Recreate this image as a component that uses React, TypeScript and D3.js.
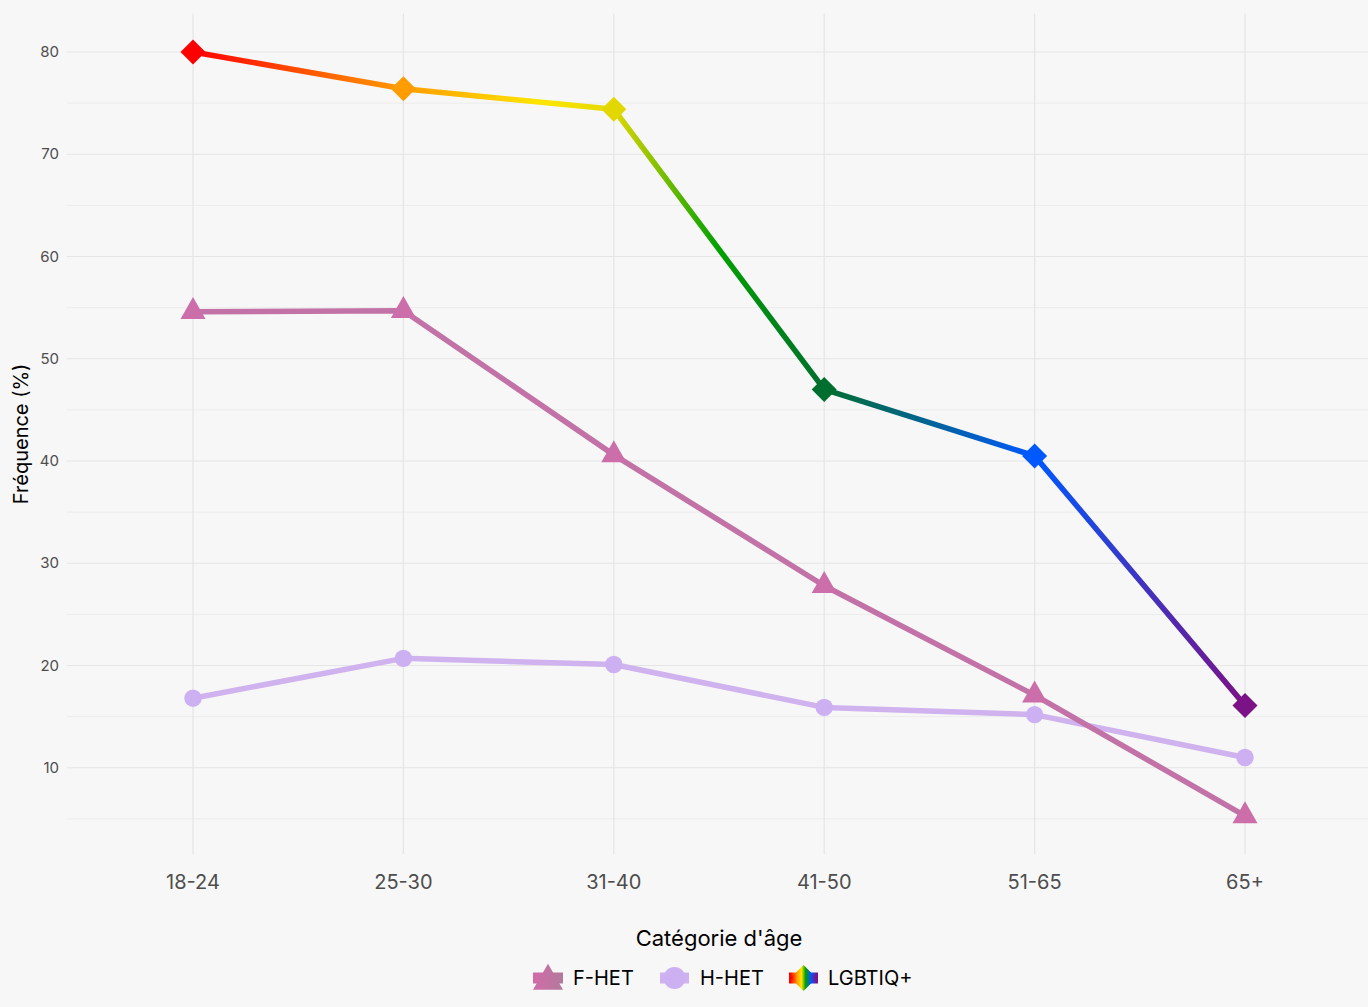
import React from 'react';
import * as d3 from 'd3';

const categories = ['18-24', '25-30', '31-40', '41-50', '51-65', '65+'];
const fhetValues = [54.6, 54.7, 40.6, 27.8, 17.1, 5.3];
const hhetValues = [16.8, 20.7, 20.1, 15.9, 15.2, 11.0];
const lgbtValues = [80.0, 76.4, 74.4, 47.0, 40.5, 16.1];
const yMajorTicks = [10, 20, 30, 40, 50, 60, 70, 80];
const yMinorTicks = [5, 15, 25, 35, 45, 55, 65, 75];
const legendLabels = ['F-HET', 'H-HET', 'LGBTIQ+'];

const W = 1368;
const H = 1007;
const FONT = 'Inter, "Noto Sans", sans-serif';

const rainbowStops: [number, string][] = [
  [0, '#ff0000'],
  [0.2, '#ff9c00'],
  [0.33, '#ffe600'],
  [0.4, '#e2d800'],
  [0.5, '#00a000'],
  [0.6, '#006e2e'],
  [0.8, '#0058ff'],
  [1, '#7b1285'],
];

export default function App() {
  const panel = { left: 67, right: W, top: 13.8, bottom: 854 };
  const x = d3.scalePoint<string>().domain(categories).range([193, 1245]);
  const y = d3.scaleLinear().domain([1.565, 83.735]).range([panel.bottom, panel.top]);

  const line = d3
    .line<number>()
    .x((_, i) => x(categories[i]) as number)
    .y((d) => y(d));

  const interp = (t: number) => {
    for (let i = 0; i < rainbowStops.length - 1; i++) {
      const [a, ca] = rainbowStops[i];
      const [b, cb] = rainbowStops[i + 1];
      if (t >= a && t <= b) return d3.interpolateRgb(ca, cb)((t - a) / (b - a));
    }
    return rainbowStops[rainbowStops.length - 1][1];
  };

  const x0 = x(categories[0]) as number;
  const x1 = x(categories[categories.length - 1]) as number;

  const tri = (cx: number, cy: number, w: number, h: number) =>
    `M${cx},${cy - (2 * h) / 3}L${cx + w / 2},${cy + h / 3}L${cx - w / 2},${cy + h / 3}Z`;
  const diamond = (cx: number, cy: number, r: number) =>
    `M${cx},${cy - r}L${cx + r},${cy}L${cx},${cy + r}L${cx - r},${cy}Z`;

  const fhetLine = '#c272a7';
  const fhetPoint = '#cc6ea9';
  const hhetColor = '#cfb2ee';
  const hhetPoint = '#cdb0f2';

  const legendY = 978;
  const legendItems = [
    { key: 533, label: 573 },
    { key: 660, label: 700 },
    { key: 789, label: 828 },
  ];

  return (
    <svg
      width={W}
      height={H}
      style={{ position: 'fixed', left: 0, top: 0, display: 'block' }}
      fontFamily={FONT}
    >
      <defs>
        <linearGradient id="rainbow" gradientUnits="userSpaceOnUse" x1={x0} y1={0} x2={x1} y2={0}>
          {rainbowStops.map(([o, c]) => (
            <stop key={o} offset={o} stopColor={c} />
          ))}
        </linearGradient>
        <linearGradient id="rainbowKey" x1="0" y1="0" x2="1" y2="0">
          <stop offset="0.05" stopColor="#ff0000" />
          <stop offset="0.25" stopColor="#ff9c00" />
          <stop offset="0.42" stopColor="#ffe600" />
          <stop offset="0.58" stopColor="#00a000" />
          <stop offset="0.78" stopColor="#0058ff" />
          <stop offset="0.95" stopColor="#7b1285" />
        </linearGradient>
        <linearGradient id="fhetKey" x1="0" y1="0" x2="1" y2="0">
          <stop offset="0" stopColor="#d26ba9" />
          <stop offset="1" stopColor="#b27a9c" />
        </linearGradient>
      </defs>
      <rect x={0} y={0} width={W} height={H} fill="#f7f7f7" />

      {/* grid */}
      {yMinorTicks.map((t) => (
        <line key={'mn' + t} x1={panel.left} x2={panel.right} y1={y(t)} y2={y(t)} stroke="#ececec" strokeWidth={1} />
      ))}
      {yMajorTicks.map((t) => (
        <line key={'mj' + t} x1={panel.left} x2={panel.right} y1={y(t)} y2={y(t)} stroke="#e5e5e5" strokeWidth={1.2} />
      ))}
      {categories.map((c) => (
        <line key={'v' + c} x1={x(c)} x2={x(c)} y1={panel.top} y2={panel.bottom} stroke="#e5e5e5" strokeWidth={1.2} />
      ))}

      {/* y tick labels */}
      {yMajorTicks.map((t) => (
        <text key={'yt' + t} x={59} y={y(t)} dy="0.35em" textAnchor="end" fontSize={15} fill="#4d4d4d">
          {t}
        </text>
      ))}
      {/* x tick labels */}
      {categories.map((c) => (
        <text key={'xt' + c} x={x(c)} y={889} textAnchor="middle" fontSize={20} fill="#4d4d4d">
          {c}
        </text>
      ))}

      {/* axis titles */}
      <text x={(panel.left + 1371) / 2} y={946} textAnchor="middle" fontSize={22} fill="#000">
        Catégorie d'âge
      </text>
      <text
        transform={`translate(28,${(panel.top + panel.bottom) / 2}) rotate(-90)`}
        textAnchor="middle"
        fontSize={20}
        fill="#000"
      >
        Fréquence (%)
      </text>

      {/* H-HET */}
      <path d={line(hhetValues) || ''} fill="none" stroke={hhetColor} strokeWidth={5.5} strokeLinejoin="round" />
      {hhetValues.map((v, i) => (
        <circle key={'h' + i} cx={x(categories[i])} cy={y(v)} r={8.7} fill={hhetPoint} />
      ))}

      {/* F-HET */}
      <path d={line(fhetValues) || ''} fill="none" stroke={fhetLine} strokeWidth={5.5} strokeLinejoin="round" />
      {fhetValues.map((v, i) => (
        <path key={'f' + i} d={tri(x(categories[i]) as number, y(v), 25, 22)} fill={fhetPoint} />
      ))}

      {/* LGBTIQ+ */}
      <path d={line(lgbtValues) || ''} fill="none" stroke="url(#rainbow)" strokeWidth={5.5} strokeLinejoin="round" />
      {lgbtValues.map((v, i) => {
        const cx = x(categories[i]) as number;
        return <path key={'l' + i} d={diamond(cx, y(v), 12.5)} fill={interp((cx - x0) / (x1 - x0))} />;
      })}

      {/* legend */}
      {legendItems.map((it, i) => (
        <text key={'lg' + i} x={it.label} y={legendY} dy="0.36em" fontSize={20} fill="#000">
          {legendLabels[i]}
        </text>
      ))}
      <rect x={legendItems[0].key} y={legendY - 5.5} width={30} height={11} fill="url(#fhetKey)" />
      <path d={tri(legendItems[0].key + 15, legendY + 3, 30, 26)} fill="url(#fhetKey)" />
      <rect x={legendItems[1].key} y={legendY - 5.5} width={29} height={11} fill={hhetColor} />
      <circle cx={legendItems[1].key + 14.5} cy={legendY} r={11} fill={hhetPoint} />
      <rect x={legendItems[2].key} y={legendY - 5.5} width={29} height={11} fill="url(#rainbowKey)" />
      <path d={diamond(legendItems[2].key + 14.5, legendY, 13)} fill="url(#rainbowKey)" />
    </svg>
  );
}
